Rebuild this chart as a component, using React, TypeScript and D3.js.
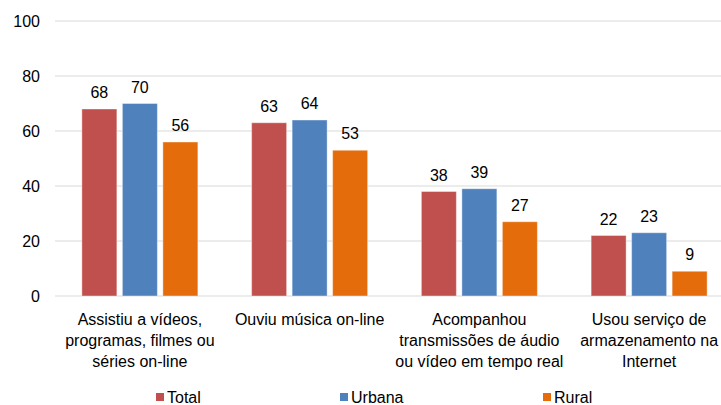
import React from "react";
import * as d3 from "d3";

const categories: string[][] = [
  ["Assistiu a vídeos,", "programas, filmes ou", "séries on-line"],
  ["Ouviu música on-line"],
  ["Acompanhou", "transmissões de áudio", "ou vídeo em tempo real"],
  ["Usou serviço de", "armazenamento na", "Internet"],
];
const seriesNames = ["Total", "Urbana", "Rural"];
const totalValues = [68, 63, 38, 22];
const urbanaValues = [70, 64, 39, 23];
const ruralValues = [56, 53, 27, 9];
const yTicks = [0, 20, 40, 60, 80, 100];
const colors = ["#C0504D", "#4F81BD", "#E46C0A"];

const W = 721;
const H = 405;
const FONT = "Liberation Sans, Arial, sans-serif";

export default function App() {
  const series = [totalValues, urbanaValues, ruralValues];
  const y = d3.scaleLinear().domain([0, 100]).range([296, 21]);
  const x0 = d3
    .scaleBand<number>()
    .domain(categories.map((_, i) => i))
    .range([55, 734])
    .padding(0);
  const x1 = d3
    .scaleBand<string>()
    .domain(seriesNames)
    .range([-58, 58])
    .paddingInner(0.136)
    .paddingOuter(0);
  const legendX = [156, 340, 543];

  return (
    <svg
      width={W}
      height={H}
      style={{ position: "absolute", left: 0, top: 0, background: "#fff" }}
      fontFamily={FONT}
    >
      {yTicks.map((t) => (
        <g key={t}>
          <line x1={55} x2={W} y1={y(t)} y2={y(t)} stroke="#d9d9d9" strokeWidth={1} />
          <text x={40} y={y(t)} dy="0.35em" textAnchor="end" fontSize={16} fill="#000">
            {t}
          </text>
        </g>
      ))}
      {categories.map((cat, ci) => {
        const cx = (x0(ci) as number) + x0.bandwidth() / 2;
        return (
          <g key={ci}>
            {seriesNames.map((s, si) => {
              const v = series[si][ci];
              const bx = cx + (x1(s) as number);
              return (
                <g key={s}>
                  <rect
                    x={bx}
                    y={y(v)}
                    width={x1.bandwidth()}
                    height={y(0) - y(v)}
                    fill={colors[si]}
                    stroke="#ffffff"
                    strokeOpacity={0.4}
                    strokeWidth={1}
                  />
                  <text
                    x={bx + x1.bandwidth() / 2}
                    y={y(v) - 11}
                    textAnchor="middle"
                    fontSize={16}
                    fill="#000"
                  >
                    {v}
                  </text>
                </g>
              );
            })}
            {cat.map((line, li) => (
              <text
                key={li}
                x={cx}
                y={325 + li * 21}
                textAnchor="middle"
                fontSize={16}
                fill="#000"
              >
                {line}
              </text>
            ))}
          </g>
        );
      })}
      {seriesNames.map((s, si) => (
        <g key={s}>
          <rect x={legendX[si]} y={393} width={8} height={8} fill={colors[si]} />
          <text x={legendX[si] + 11} y={403} fontSize={16} fill="#000">
            {s}
          </text>
        </g>
      ))}
    </svg>
  );
}
